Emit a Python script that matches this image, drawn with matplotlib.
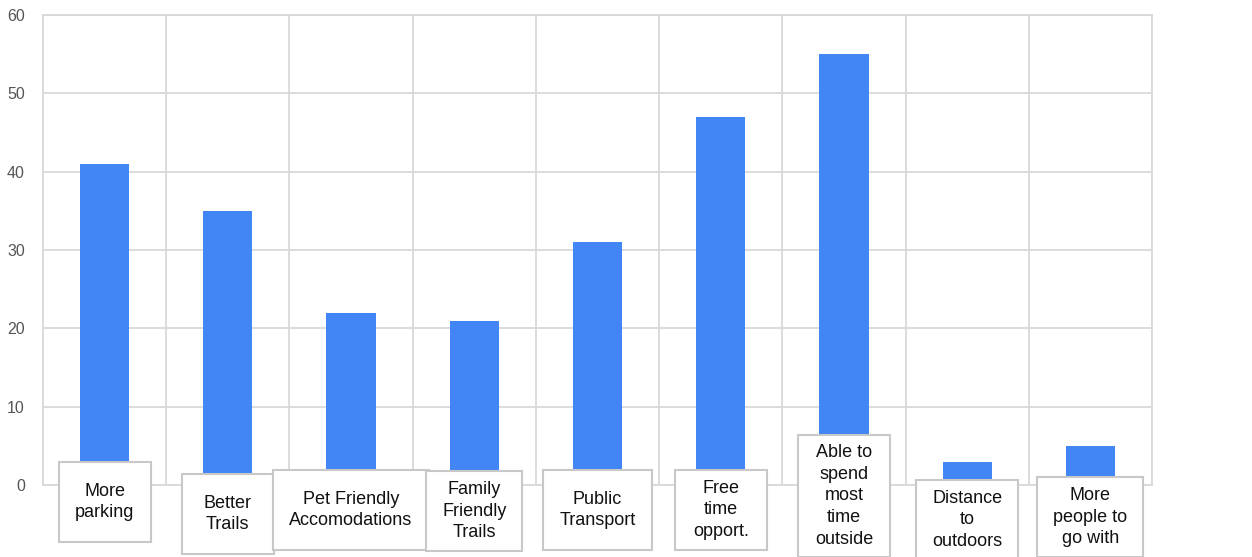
import matplotlib.pyplot as plt
from matplotlib.patches import Rectangle
from matplotlib.transforms import blended_transform_factory

# datos
categories = ['More\nparking', 'Better\nTrails', 'Pet Friendly\nAccomodations',
              'Family\nFriendly\nTrails', 'Public\nTransport', 'Free\ntime\nopport.',
              'Able to\nspend\nmost\ntime\noutside', 'Distance\nto\noutdoors',
              'More\npeople to\ngo with']
values = [41, 35, 22, 21, 31, 47, 55, 3, 5]
yticks = [0, 10, 20, 30, 40, 50, 60]

# centro vertical de cada etiqueta (pixeles desde arriba)
label_centers = [502, 514, 510, 511, 510, 510, 496, 520, 517]

W, H = 1252, 557
fig = plt.figure(figsize=(W / 100, H / 100), dpi=100)
ax = fig.add_axes([43 / W, 1 - 485 / H, (1152 - 43) / W, (485 - 15) / H])

grid_c = '#d9d9d9'
x = list(range(len(values)))
ax.bar(x, values, width=0.4, color='#4285F4', zorder=2)

ax.set_xlim(-0.5, len(values) - 0.5)
ax.set_ylim(0, 60)
ax.set_yticks(yticks)
ax.set_xticks([])
ax.set_xticks([i - 0.5 for i in range(len(values) + 1)], minor=True)
ax.tick_params(axis='x', which='both', length=0, labelbottom=False)
ax.tick_params(axis='y', length=0, pad=13, labelsize=11.5, labelcolor='#555555')
for lab in ax.get_yticklabels():
    lab.set_fontfamily('Liberation Sans')
ax.grid(True, which='major', axis='y', color=grid_c, lw=1.3, zorder=0)
ax.grid(True, which='minor', axis='x', color=grid_c, lw=1.3, zorder=0)
for s in ax.spines.values():
    s.set_color(grid_c)
    s.set_linewidth(1.3)

# etiquetas en cajas
fs = 13
ls = 1.38
trans = blended_transform_factory(ax.transData, fig.transFigure)
texts = []
for i, (lab, yc) in enumerate(zip(categories, label_centers)):
    t = ax.text(i, 1 - yc / H, lab, transform=trans, ha='center', va='center',
                fontsize=fs, family='Liberation Sans', linespacing=ls,
                color='#111111', zorder=5, clip_on=False)
    texts.append(t)

fig.canvas.draw()
r = fig.canvas.get_renderer()
for t in texts:
    bb = t.get_window_extent(r)
    w = max(bb.width + 32, 92)
    h = max(bb.height + 18, 80)
    cx = (bb.x0 + bb.x1) / 2
    cy = (bb.y0 + bb.y1) / 2
    rect = Rectangle((cx - w / 2, cy - h / 2), w, h, transform=None,
                     facecolor='white', edgecolor='#c8c8c8', lw=1.5, zorder=4,
                     clip_on=False)
    fig.add_artist(rect)
    fig.text(cx / W, cy / H, t.get_text(), ha='center', va='center',
             fontsize=fs, family='Liberation Sans', linespacing=ls,
             color='#111111', zorder=6)
    t.set_visible(False)

fig.savefig('out.png', dpi=100)
